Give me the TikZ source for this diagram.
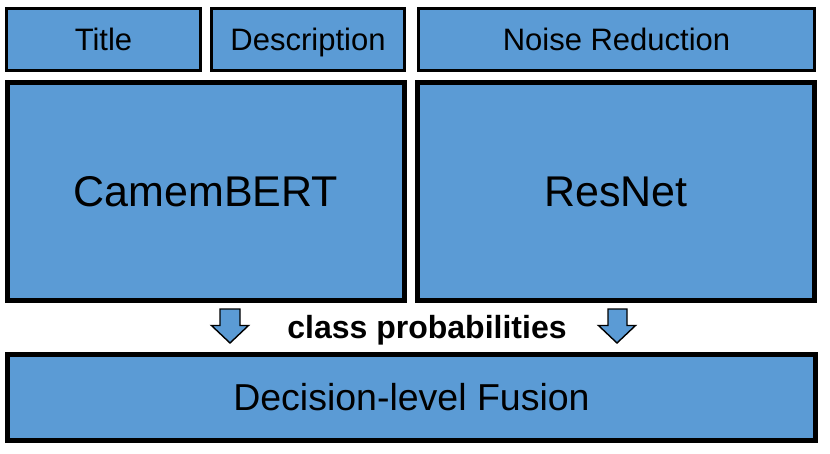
\documentclass[tikz,border=0pt]{standalone}
\usepackage{fontspec}
\setmainfont{Liberation Sans}
\definecolor{boxblue}{RGB}{91,155,213}
\begin{document}
\begin{tikzpicture}[x=1pt,y=-1pt,
  box/.style={draw=black,fill=boxblue,inner sep=0pt,outer sep=0pt,rectangle,text depth=0pt},
  smallbox/.style={box,line width=3pt,minimum height=62pt,text height=22.2pt,font=\fontsize{31}{36}\selectfont},
  bigbox/.style={box,line width=4.8pt,minimum height=218pt,minimum width=397pt,text height=30.8pt,font=\fontsize{43}{50}\selectfont},
  blockarrow/.style={draw=black,fill=boxblue,line width=1.4pt,line join=miter}]
\useasboundingbox (0,0) rectangle (830,453);
\node[smallbox,minimum width=194pt] (title) at (103.5,39.5) {Title};
\node[smallbox,minimum width=193pt] (desc) at (308,39.5) {Description};
\node[smallbox,minimum width=396pt] (noise) at (616.5,39.5) {Noise Reduction};
\node[bigbox] (camembert) at (206,191.5) {CamemBERT};
\node[bigbox] (resnet) at (616,191.5) {ResNet};
\node[box,line width=4.8pt,minimum width=808pt,minimum height=86pt,text height=26.9pt,font=\fontsize{37.5}{44}\selectfont] (fusion) at (411.5,397.5) {Decision-level Fusion};
\node[font=\fontsize{32}{38}\selectfont\bfseries,text height=22.9pt,text depth=0pt,inner sep=0pt] (probs) at (427,327.5) {class probabilities};
\filldraw[blockarrow] (220,309) -- (240,309) -- (240,325.5) -- (248.5,325.5) -- (230,343) -- (211.5,325.5) -- (220,325.5) -- cycle;
\filldraw[blockarrow] (608,309) -- (627,309) -- (627,325.5) -- (635.5,325.5) -- (617,343) -- (598.5,325.5) -- (608,325.5) -- cycle;
\end{tikzpicture}
\end{document}
